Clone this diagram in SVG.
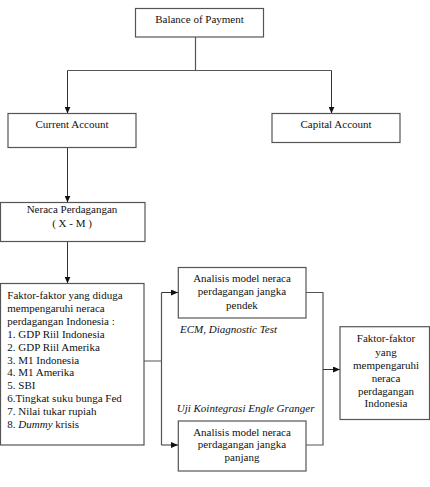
<svg xmlns="http://www.w3.org/2000/svg" width="430" height="487" viewBox="0 0 430 487">
<defs>
<marker id="ah" markerWidth="7" markerHeight="6" refX="7" refY="3" orient="auto" markerUnits="userSpaceOnUse">
<path d="M0,0 L7,3 L0,6 Z" fill="#111"/>
</marker>
<style>
.box{fill:#fff;stroke:#555;stroke-width:1.2}
.ln{fill:none;stroke:#555;stroke-width:1.2}
.ar{fill:none;stroke:#333;stroke-width:1;marker-end:url(#ah)}
.t{font-family:"Liberation Serif","Tinos","Times New Roman","DejaVu Serif",serif;font-size:11px;fill:#111}
.c{text-anchor:middle}
.i{font-style:italic}
</style>
</defs>
<rect width="430" height="487" fill="#fff"/>
<g id="connectors">
<path class="ln" d="M195.5,37 V70.5 M67.5,70.5 H331.5"/>
<path class="ar" d="M67.5,70.5 V113.5"/>
<path class="ar" d="M331.5,70.5 V113.5"/>
<path class="ar" d="M67.5,147.5 V202.5"/>
<path class="ar" d="M67.5,241.5 V283.5"/>
<path class="ln" d="M144,361 H161.5 M161.5,292.5 V445"/>
<path class="ar" d="M161.5,292.5 H178"/>
<path class="ar" d="M161.5,445 H178"/>
<path class="ln" d="M306,292.5 H323 V445 H306"/>
<path class="ar" d="M323,369.5 H340"/>
</g>
<g class="t">
<g id="balance">
<rect class="box" x="135.5" y="8.5" width="128" height="28.5"/>
<text class="c" x="199.5" y="23">Balance of Payment</text>
</g>
<g id="current">
<rect class="box" x="8" y="113.5" width="128" height="34"/>
<text class="c" x="72" y="128">Current Account</text>
</g>
<g id="capital">
<rect class="box" x="272" y="113.5" width="128" height="29"/>
<text class="c" x="336" y="128">Capital Account</text>
</g>
<g id="neraca">
<rect class="box" x="0.5" y="202.5" width="144.5" height="39"/>
<text class="c" x="72" y="213">Neraca Perdagangan</text>
<text class="c" x="72" y="227">( X - M )</text>
</g>
<g id="faktor">
<rect class="box" x="0.5" y="283.5" width="143.5" height="161.5"/>
<text x="7.3" y="299">Faktor-faktor yang diduga</text>
<text x="7.3" y="312">mempengaruhi neraca</text>
<text x="7.3" y="325">perdagangan Indonesia :</text>
<text x="7.3" y="338">1. GDP Riil Indonesia</text>
<text x="7.3" y="350.7">2. GDP Riil Amerika</text>
<text x="7.3" y="363.7">3. M1 Indonesia</text>
<text x="7.3" y="376.3">4. M1  Amerika</text>
<text x="7.3" y="389.3">5. SBI</text>
<text x="7.3" y="402.3">6.Tingkat suku bunga Fed</text>
<text x="7.3" y="415.3">7. Nilai tukar rupiah</text>
<text x="7.3" y="428.3">8. <tspan class="i">Dummy</tspan> krisis</text>
</g>
<g id="pendek">
<rect class="box" x="178.3" y="267.5" width="127.7" height="50.5"/>
<text class="c" x="242" y="282.3">Analisis model neraca</text>
<text class="c" x="242" y="294.7">perdagangan jangka</text>
<text class="c" x="242" y="309">pendek</text>
</g>
<g id="panjang">
<rect class="box" x="178.3" y="421" width="127.7" height="50"/>
<text class="c" x="242" y="435.7">Analisis model neraca</text>
<text class="c" x="242" y="448">perdagangan jangka</text>
<text class="c" x="242" y="461.3">panjang</text>
</g>
<g id="hasil">
<rect class="box" x="340" y="326.7" width="89.5" height="92.8"/>
<text class="c" x="386" y="341.7">Faktor-faktor</text>
<text class="c" x="386" y="355.5">yang</text>
<text class="c" x="386" y="368.7">mempengaruhi</text>
<text class="c" x="386" y="382">neraca</text>
<text class="c" x="386" y="395">perdagangan</text>
<text class="c" x="386" y="406.7">Indonesia</text>
</g>
<g id="labels">
<text class="i" x="180" y="333">ECM, Diagnostic Test</text>
<text class="i" x="176.7" y="412">Uji Kointegrasi Engle Granger</text>
</g>
</g>
</svg>
